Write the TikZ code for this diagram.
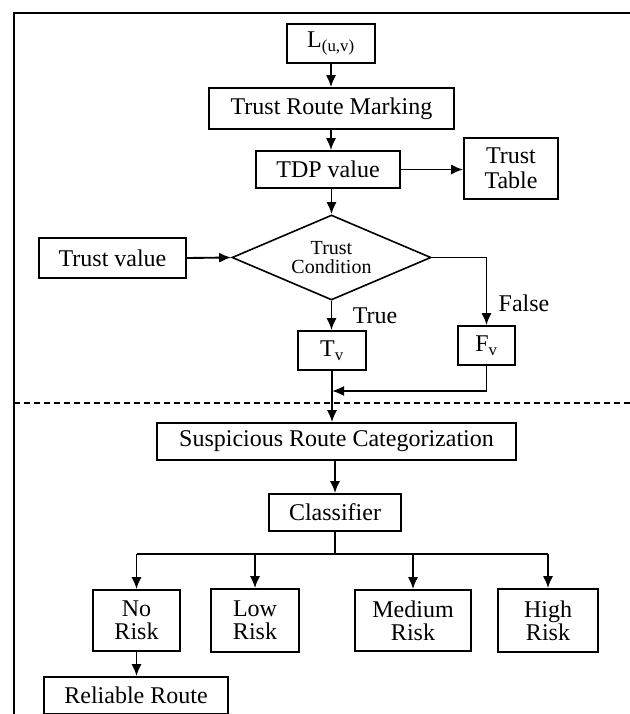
\documentclass[tikz,border=0pt]{standalone}
\usepackage{fontspec}
\setmainfont{Liberation Serif}
\usetikzlibrary{shapes.geometric,arrows.meta}
\begin{document}
\begin{tikzpicture}[x=0.75pt,y=-0.75pt,
 box/.style={draw,line width=1.2pt,inner sep=0pt,align=center,font=\fontsize{18}{17}\selectfont},
 lbl/.style={inner sep=0pt,font=\fontsize{18}{17}\selectfont},
 arr/.style={-{Latex[length=9pt,width=7.5pt]},line width=1.4pt},
 ln/.style={line width=1.3pt},
 sep/.style={line width=1pt,dash pattern=on 4.5pt off 3pt}]
\useasboundingbox (0,0) rectangle (630,714);
\draw[ln] (630,13) -- (14,13) -- (14,714);

\node[box,minimum width=66pt,minimum height=29.25pt] (L) at (331,43.5) {L\textsubscript{(u,v)}};
\node[box,minimum width=183.75pt,minimum height=30.75pt] (TRM) at (331.5,108.5) {Trust Route Marking};
\node[box,minimum width=108.4pt,minimum height=27.75pt] (TDP) at (328,169.5) {TDP value};
\node[box,minimum width=70.5pt,minimum height=45.75pt,font=\fontsize{18}{19}\selectfont] (TT) at (511,168.5) {Trust\\Table};
\node[draw,line width=1.2pt,diamond,shape aspect=2.34,inner sep=0pt,minimum width=149.25pt,minimum height=63.75pt,align=center,font=\fontsize{15}{14.5}\selectfont] (D) at (331.5,257.5) {Trust\\Condition};
\node[box,minimum width=110.25pt,minimum height=30pt] (TV) at (112.5,258) {Trust value};
\node[box,minimum width=51pt,minimum height=29.25pt] (Tv) at (332,350.5) {T\textsubscript{v}};
\node[box,minimum width=42.75pt,minimum height=29.25pt] (Fv) at (486.5,345.5) {F\textsubscript{v}};
\node[box,minimum width=269.25pt,minimum height=27.75pt] (SRC) at (336.5,441.5) {Suspicious Route Categorization};
\node[box,minimum width=99.4pt,minimum height=27.75pt] (C) at (335,512.5) {Classifier};
\node[box,minimum width=65.25pt,minimum height=45.75pt] (NR) at (136.5,620.5) {No\\Risk};
\node[box,minimum width=66.4pt,minimum height=47.25pt] (LR) at (255,620.5) {Low\\Risk};
\node[box,minimum width=86.6pt,minimum height=45.75pt] (MR) at (413,620.5) {Medium\\Risk};
\node[box,minimum width=75pt,minimum height=47.25pt] (HR) at (548,620.5) {High\\Risk};
\node[box,minimum width=138pt,minimum height=27.75pt] (RR) at (136,695.5) {Reliable Route};

\node[lbl] (true) at (375,316) {True};
\node[lbl] (false) at (524,303) {False};

\coordinate (m) at (332,391);
\coordinate (b) at (335,554);

\draw[arr] (L.south) -- (L.south |- TRM.north);
\draw[arr] (L.south |- TRM.south) -- (L.south |- TDP.north);
\draw[arr] (TDP.east) -- (TDP.east -| TT.west);
\draw[arr] (D.north |- TDP.south) -- (D.north);
\draw[arr] (TV.east) -- (D.west);
\draw[arr] (D.south) -- (D.south |- Tv.north);
\draw[arr] (D.east) -| (Fv.north);
\draw[arr] (Fv.south) |- (m);
\draw[ln] (Tv.south) -- (m);
\draw[arr] (m) -- (m |- SRC.north);
\draw[sep] (14,403) -- (630,403);
\draw[arr] (C.north |- SRC.south) -- (C.north);
\draw[ln] (C.south) -- (b);
\draw[ln] (NR.north |- b) -- (HR.north |- b);
\foreach \n in {NR,LR,MR,HR} \draw[arr] (\n.north |- b) -- (\n.north);
\draw[arr] (NR.south) -- (NR.south |- RR.north);
\end{tikzpicture}
\end{document}
